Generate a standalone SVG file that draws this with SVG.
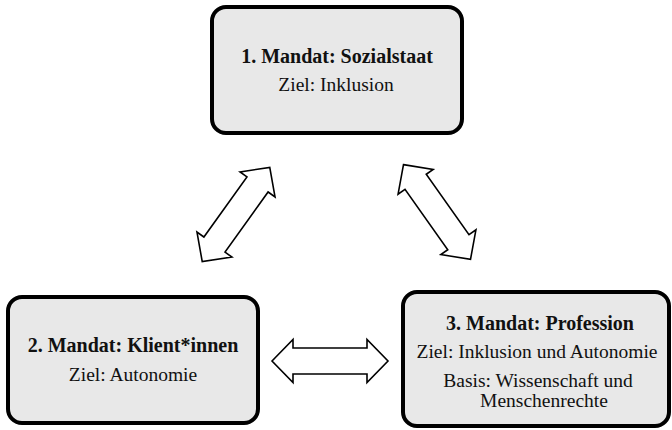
<svg xmlns="http://www.w3.org/2000/svg" width="672" height="430" viewBox="0 0 672 430">
  <style>
    .box { fill: #e8e8e8; stroke: #000; stroke-width: 4; }
    text { font-family: 'Liberation Serif', 'Times New Roman', Times, serif; text-anchor: middle; fill: #111; }
    .t { font-size: 20px; font-weight: bold; }
    .b { font-size: 19.5px; }
    .arr { fill: #fff; stroke: #000; stroke-width: 1.6; stroke-linejoin: miter; }
  </style>
  <defs>
    <path id="dbl" d="M-58,0 L-37,-21.5 L-37,-13 L37,-13 L37,-21.5 L58,0 L37,21.5 L37,13 L-37,13 L-37,21.5 Z"/>
  </defs>
  <rect width="672" height="430" fill="#fff"/>
  <g id="connectors">
    <use href="#dbl" class="arr" transform="translate(236,214.5) rotate(-54.4)"/>
    <use href="#dbl" class="arr" transform="translate(437,212) rotate(54.7)"/>
    <use href="#dbl" class="arr" transform="translate(330,361)"/>
  </g>
  <g id="node1">
    <rect class="box" x="212" y="7" width="250" height="126" rx="14"/>
    <text class="t" x="337" y="63">1. Mandat: Sozialstaat</text>
    <text class="b" x="336" y="91">Ziel: Inklusion</text>
  </g>
  <g id="node2">
    <rect class="box" x="8" y="297" width="250" height="126" rx="14"/>
    <text class="t" x="133" y="352">2. Mandat: Klient*innen</text>
    <text class="b" x="133" y="381">Ziel: Autonomie</text>
  </g>
  <g id="node3">
    <rect class="box" x="403" y="292" width="266" height="134" rx="14"/>
    <text class="t" x="540" y="330">3. Mandat: Profession</text>
    <text class="b" x="537" y="358">Ziel: Inklusion und Autonomie</text>
    <text class="b" x="538" y="387">Basis: Wissenschaft und</text>
    <text class="b" x="544" y="407">Menschenrechte</text>
  </g>
</svg>
